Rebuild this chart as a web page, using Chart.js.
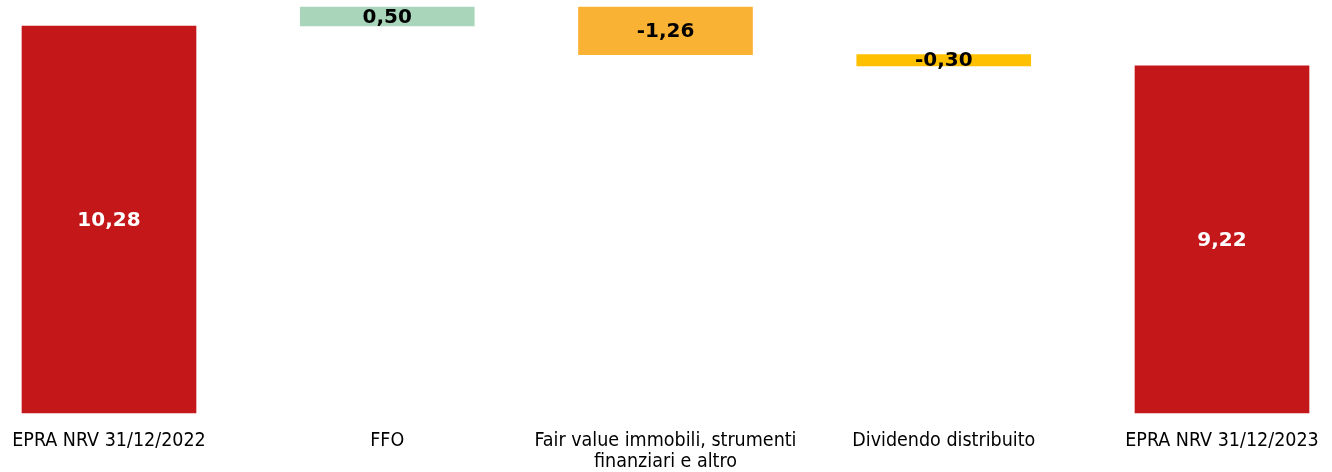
<!DOCTYPE html>
<html>
<head>
<meta charset="utf-8">
<script src="https://cdn.jsdelivr.net/npm/chart.js@4"></script>
<style>
  html, body { margin: 0; padding: 0; background: #fff; }
  #wrap { width: 1332px; height: 472px; position: relative; }
</style>
</head>
<body>
<div id="wrap"><canvas id="chart"></canvas></div>
<script>
const categories = [
  'EPRA NRV 31/12/2022',
  'FFO',
  ['Fair value immobili, strumenti', 'finanziari e altro'],
  'Dividendo distribuito',
  'EPRA NRV 31/12/2023'
];
const values = [10.28, 0.50, -1.26, -0.30, 9.22];
const isTotal = [true, false, false, false, true];
const barColors = ['#C3171A', '#A9D5BB', '#F9B233', '#FFC000', '#C3171A'];
const labelColors = ['#FFFFFF', '#000000', '#000000', '#000000', '#FFFFFF'];

// waterfall: totals start at 0, steps float on the running total
let running = 0;
const ranges = values.map((v, i) => {
  if (isTotal[i]) { running = v; return [0, v]; }
  const r = [running, running + v];
  running += v;
  return r;
});

const valueLabels = {
  id: 'valueLabels',
  afterDatasetsDraw(chart) {
    const ctx = chart.ctx;
    const meta = chart.getDatasetMeta(0);
    ctx.save();
    ctx.font = 'bold 20px "DejaVu Sans"';
    ctx.textAlign = 'center';
    ctx.textBaseline = 'middle';
    meta.data.forEach((bar, i) => {
      const mid = (bar.y + bar.base) / 2 + 1;
      ctx.fillStyle = labelColors[i];
      ctx.fillText(values[i].toFixed(2).replace('.', ','), bar.x, mid);
    });
    ctx.restore();
  }
};

new Chart(document.getElementById('chart'), {
  type: 'bar',
  data: {
    labels: categories,
    datasets: [{
      data: ranges,
      backgroundColor: barColors,
      borderWidth: 0,
      barThickness: 174,
      clip: false
    }]
  },
  options: {
    responsive: true,
    maintainAspectRatio: false,
    animation: false,
    layout: { padding: { left: 109, right: 110, top: 0, bottom: 0 } },
    plugins: {
      legend: { display: false },
      tooltip: { enabled: false }
    },
    scales: {
      x: {
        offset: false,
        grid: { display: false },
        border: { display: false },
        afterFit(scale) { scale.height = 59; },
        ticks: {
          color: '#000',
          padding: 9,
          maxRotation: 0,
          autoSkip: false,
          font: { family: '"DejaVu Sans Condensed", "DejaVu Sans"', size: 19.5, lineHeight: 1.1 }
        }
      },
      y: {
        display: false,
        min: 0,
        max: 10.97
      }
    }
  },
  plugins: [valueLabels]
});
</script>
</body>
</html>
